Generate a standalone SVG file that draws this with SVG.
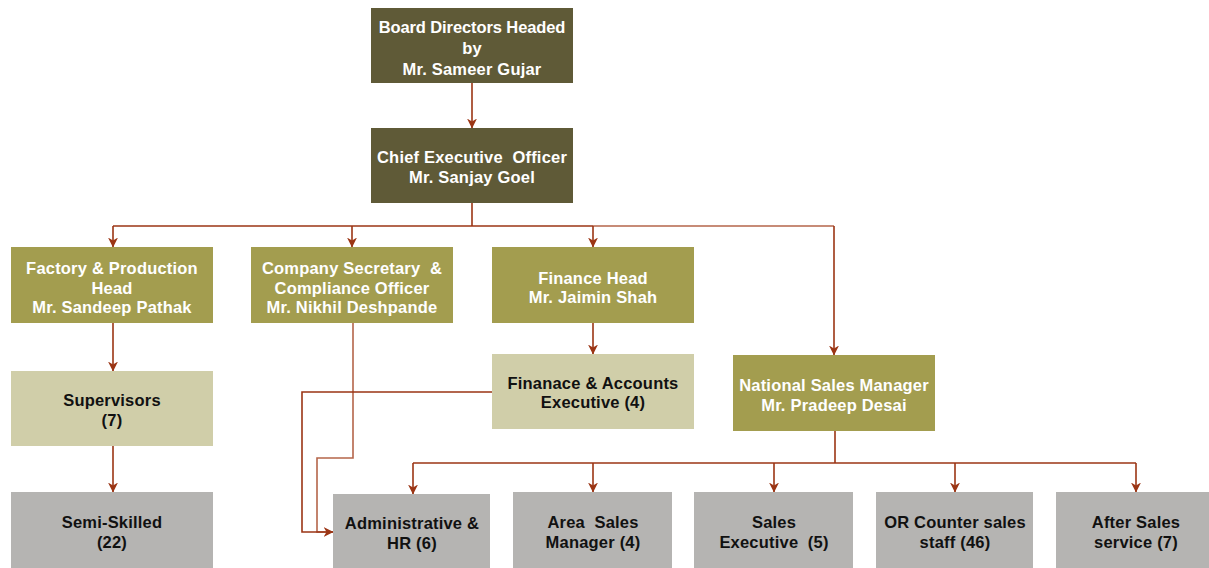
<svg xmlns="http://www.w3.org/2000/svg" width="1209" height="568" viewBox="0 0 1209 568">
  <style>
    .dark { fill: #5f5a37; }
    .olive { fill: #a39d4f; }
    .light { fill: #d0cea9; }
    .grey { fill: #b5b4b2; }
    text { font-family: "Liberation Sans", Arial, sans-serif; font-weight: bold; font-size: 16.5px; text-anchor: middle; letter-spacing: 0.2px; white-space: pre; }
    .tight { letter-spacing: -0.1px; }
    .w { fill: #ffffff; }
    .k { fill: #111111; }
    .ln { fill: none; stroke: #9b3514; stroke-width: 1.6; }
    .ln2 { fill: none; stroke: #b5654a; stroke-width: 1.6; }
  </style>
  <defs>
    <marker id="ah" viewBox="0 0 10 10" refX="9.5" refY="5" markerWidth="10" markerHeight="10" markerUnits="userSpaceOnUse" orient="auto">
      <path d="M0,0 L10,5 L0,10 L3,5 Z" fill="#9b3514"/>
    </marker>
  </defs>

  <rect width="1209" height="568" fill="#ffffff"/>

  <!-- connectors -->
  <g id="connectors">
    <path class="ln" d="M472,83 V128" marker-end="url(#ah)"/>
    <path class="ln" d="M472,203 V226"/>
    <path class="ln" d="M113,226 H593"/>
    <path class="ln2" d="M593,226 H834"/>
    <path class="ln" d="M113,226 V247" marker-end="url(#ah)"/>
    <path class="ln" d="M352,226 V247" marker-end="url(#ah)"/>
    <path class="ln" d="M593,226 V247" marker-end="url(#ah)"/>
    <path class="ln" d="M834,226 V355" marker-end="url(#ah)"/>
    <path class="ln" d="M113,323 V371" marker-end="url(#ah)"/>
    <path class="ln" d="M113,446 V492" marker-end="url(#ah)"/>
    <path class="ln" d="M593,323 V354" marker-end="url(#ah)"/>
    <path class="ln2" d="M353,323 V458 H317 V532 H333"/>
    <path class="ln" d="M492,392 H302 V532 H333" marker-end="url(#ah)"/>
    <path class="ln" d="M835,431 V463"/>
    <path class="ln" d="M413,463 H1136"/>
    <path class="ln" d="M413,463 V494" marker-end="url(#ah)"/>
    <path class="ln" d="M593,463 V492" marker-end="url(#ah)"/>
    <path class="ln" d="M774,463 V492" marker-end="url(#ah)"/>
    <path class="ln" d="M955,463 V492" marker-end="url(#ah)"/>
    <path class="ln" d="M1136,463 V492" marker-end="url(#ah)"/>
  </g>

  <g id="board">
    <rect class="dark" x="371" y="8" width="202" height="75"/>
    <text class="w tight" x="472" y="33">Board Directors Headed</text>
    <text class="w" x="472" y="54">by</text>
    <text class="w" x="472" y="75">Mr. Sameer Gujar</text>
  </g>
  <g id="ceo">
    <rect class="dark" x="371" y="128" width="202" height="75"/>
    <text class="w" x="472" y="163">Chief Executive  Officer</text>
    <text class="w" x="472" y="183">Mr. Sanjay Goel</text>
  </g>
  <g id="factory">
    <rect class="olive" x="11" y="247" width="202" height="76"/>
    <text class="w" x="112" y="274">Factory &amp; Production</text>
    <text class="w" x="112" y="294">Head</text>
    <text class="w" x="112" y="313">Mr. Sandeep Pathak</text>
  </g>
  <g id="secretary">
    <rect class="olive" x="251" y="247" width="202" height="76"/>
    <text class="w" x="352" y="274">Company Secretary  &amp;</text>
    <text class="w" x="352" y="294">Compliance Officer</text>
    <text class="w" x="352" y="313">Mr. Nikhil Deshpande</text>
  </g>
  <g id="finance">
    <rect class="olive" x="492" y="247" width="202" height="76"/>
    <text class="w" x="593" y="284">Finance Head</text>
    <text class="w" x="593" y="303">Mr. Jaimin Shah</text>
  </g>
  <g id="accounts">
    <rect class="light" x="492" y="354" width="202" height="75"/>
    <text class="k" x="593" y="389">Finanace &amp; Accounts</text>
    <text class="k" x="593" y="408">Executive (4)</text>
  </g>
  <g id="sales-manager">
    <rect class="olive" x="733" y="355" width="202" height="76"/>
    <text class="w" x="834" y="391">National Sales Manager</text>
    <text class="w" x="834" y="411">Mr. Pradeep Desai</text>
  </g>
  <g id="supervisors">
    <rect class="light" x="11" y="371" width="202" height="75"/>
    <text class="k" x="112" y="406">Supervisors</text>
    <text class="k" x="112" y="426">(7)</text>
  </g>
  <g id="semi-skilled">
    <rect class="grey" x="11" y="492" width="202" height="80"/>
    <text class="k" x="112" y="528">Semi-Skilled</text>
    <text class="k" x="112" y="548">(22)</text>
  </g>
  <g id="admin">
    <rect class="grey" x="333" y="494" width="157" height="80"/>
    <text class="k" x="412" y="529">Administrative &amp;</text>
    <text class="k" x="412" y="549">HR (6)</text>
  </g>
  <g id="area-sales">
    <rect class="grey" x="513" y="492" width="159" height="80"/>
    <text class="k" x="593" y="528">Area  Sales</text>
    <text class="k" x="593" y="548">Manager (4)</text>
  </g>
  <g id="sales-exec">
    <rect class="grey" x="694" y="492" width="159" height="80"/>
    <text class="k" x="774" y="528">Sales</text>
    <text class="k" x="774" y="548">Executive  (5)</text>
  </g>
  <g id="counter">
    <rect class="grey" x="876" y="492" width="157" height="80"/>
    <text class="k" x="955" y="528">OR Counter sales</text>
    <text class="k" x="955" y="548">staff (46)</text>
  </g>
  <g id="after-sales">
    <rect class="grey" x="1056" y="492" width="160" height="80"/>
    <text class="k" x="1136" y="528">After Sales</text>
    <text class="k" x="1136" y="548">service (7)</text>
  </g>
</svg>
